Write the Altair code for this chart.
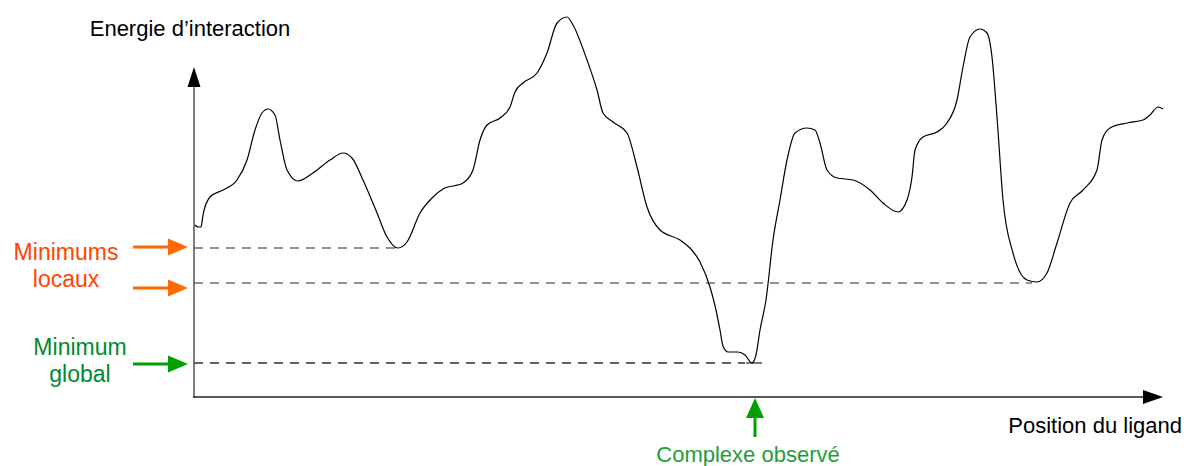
import altair as alt
import pandas as pd

curve_x = [195, 198, 201, 203, 210, 223, 237, 247, 255, 262, 268, 275, 280, 287, 298, 313, 330,
           343, 352, 363, 377, 387, 398, 407, 420, 433, 443, 463, 473, 480, 487, 500, 510, 515,
           523, 537, 547, 557, 567, 573, 587, 597, 603, 613, 627, 637, 647, 660, 680, 690, 700,
           710, 716, 720, 723, 728, 738, 745, 752, 756, 760, 766, 773, 780, 787, 795, 807, 815,
           820, 827, 837, 853, 870, 883, 898, 907, 912, 915, 923, 937, 947, 957, 963, 970, 980,
           987, 992, 997, 1003, 1013, 1027, 1037, 1047, 1057, 1070, 1083, 1097, 1102, 1110, 1127,
           1143, 1150, 1158, 1163]
curve_y = [225, 227, 227, 215, 197, 190, 180, 160, 130, 113, 109, 115, 140, 170, 181, 173, 160,
           153, 158, 180, 213, 237, 248, 242, 213, 197, 189, 183, 170, 140, 125, 118, 107, 92,
           83, 73, 53, 23, 17, 25, 60, 90, 113, 122, 133, 167, 207, 230, 240, 248, 262,
           287, 310, 330, 346, 352, 352, 355, 363, 355, 330, 300, 240, 200, 160, 133, 128, 130,
           143, 170, 178, 180, 190, 203, 212, 200, 177, 150, 137, 132, 123, 100, 67, 37, 29,
           33, 57, 117, 200, 253, 280, 282, 273, 243, 203, 190, 170, 140, 128, 123,
           120, 115, 107, 109]

# Reference levels (dashed)
lvl_x1 = [194, 194, 194]
lvl_x2 = [398, 1032, 745]
lvl_y = [248, 283, 363]
lvl_color = ["#6e6e6e", "#6e6e6e", "#333333"]

# Pointer arrows
arr_y = [247, 288, 364]
arr_color = ["#ff6a00", "#ff6a00", "#00a000"]

labels = ["Minimums", "locaux", "Minimum", "global"]
label_x = [66, 66, 80, 80]
label_y = [260, 287, 355, 382]
label_color = ["#ff4400", "#ff4400", "#008a2e", "#008a2e"]

titles = ["Energie d\u2019interaction", "Complexe observ\u00e9"]
title_x = [190, 748]
title_y = [36, 462]
title_color = ["#000000", "#1f9e3a"]

xtitle = ["Position du ligand"]
xtitle_x = [1182]
xtitle_y = [433]

X = alt.Scale(domain=[8, 1183])
Y = alt.Scale(domain=[8, 466], reverse=True)
FONT = "Liberation Sans"

def xenc(f):
    return alt.X(f, type="quantitative", scale=X, axis=None)

def yenc(f):
    return alt.Y(f, type="quantitative", scale=Y, axis=None)

curve = alt.Chart(pd.DataFrame({"x": curve_x, "y": curve_y})).mark_line(
    interpolate="monotone", color="black", strokeWidth=1.2
).encode(x=xenc("x"), y=yenc("y"), order="x:Q")

lv = pd.DataFrame({"x1": lvl_x1, "x2": lvl_x2, "y": lvl_y, "c": lvl_color})
levels = alt.Chart(lv).mark_rule(strokeDash=[9, 7], strokeWidth=1.3).encode(
    x=xenc("x1"), x2="x2:Q", y=yenc("y"), color=alt.Color("c:N", scale=None)
)
solid_end = alt.Chart(pd.DataFrame({"x1": [746], "x2": [762], "y": [363]})).mark_rule(
    color="#222222", strokeWidth=1.2
).encode(x=xenc("x1"), x2="x2:Q", y=yenc("y"))

# axes
vaxis = alt.Chart(pd.DataFrame({"x": [194], "y1": [398], "y2": [84]})).mark_rule(
    color="#555555", strokeWidth=1.5
).encode(x=xenc("x"), y=yenc("y1"), y2="y2:Q")
haxis = alt.Chart(pd.DataFrame({"x1": [193], "x2": [1146], "y": [397]})).mark_rule(
    color="#222222", strokeWidth=1.4
).encode(x=xenc("x1"), x2="x2:Q", y=yenc("y"))
vhead = alt.Chart(pd.DataFrame({"x": [194], "y": [77]})).mark_point(
    shape="M0,-1L-0.65,1L0.65,1Z", filled=True, size=400, color="black", opacity=1
).encode(x=xenc("x"), y=yenc("y"))
hhead = alt.Chart(pd.DataFrame({"x": [1153], "y": [397]})).mark_point(
    shape="M1,0L-1,-0.7L-1,0.7Z", filled=True, size=400, color="black", opacity=1
).encode(x=xenc("x"), y=yenc("y"))

# colored pointer arrows
ar = pd.DataFrame({"x1": [133] * 3, "x2": [171] * 3, "xh": [178] * 3, "y": arr_y, "c": arr_color})
shafts = alt.Chart(ar).mark_rule(strokeWidth=3).encode(
    x=xenc("x1"), x2="x2:Q", y=yenc("y"), color=alt.Color("c:N", scale=None)
)
heads = alt.Chart(ar).mark_point(
    shape="M1,0L-1,-0.85L-1,0.85Z", filled=True, size=400, opacity=1
).encode(x=xenc("xh"), y=yenc("y"), color=alt.Color("c:N", scale=None))

up = pd.DataFrame({"x": [755], "y1": [437], "y2": [414], "yh": [408]})
up_shaft = alt.Chart(up).mark_rule(strokeWidth=3, color="#00a000").encode(
    x=xenc("x"), y=yenc("y1"), y2="y2:Q"
)
up_head = alt.Chart(up).mark_point(
    shape="M0,-1L-0.9,1L0.9,1Z", filled=True, size=400, opacity=1, color="#00a000"
).encode(x=xenc("x"), y=yenc("yh"))

lab = alt.Chart(pd.DataFrame({"t": labels, "x": label_x, "y": label_y, "c": label_color})).mark_text(
    font=FONT, fontSize=23, align="center", baseline="alphabetic"
).encode(x=xenc("x"), y=yenc("y"), text="t:N", color=alt.Color("c:N", scale=None))

tit = alt.Chart(pd.DataFrame({"t": titles, "x": title_x, "y": title_y, "c": title_color})).mark_text(
    font=FONT, fontSize=22, align="center", baseline="alphabetic"
).encode(x=xenc("x"), y=yenc("y"), text="t:N", color=alt.Color("c:N", scale=None))

xt = alt.Chart(pd.DataFrame({"t": xtitle, "x": xtitle_x, "y": xtitle_y})).mark_text(
    font=FONT, fontSize=22, align="right", baseline="alphabetic", color="black"
).encode(x=xenc("x"), y=yenc("y"), text="t:N")

chart = alt.layer(
    levels, solid_end, vaxis, haxis, vhead, hhead, curve, shafts, heads, up_shaft, up_head, lab, tit, xt
).properties(width=1175, height=458, padding=0, autosize="none", background="white").configure_view(
    stroke=None
)

chart.save("out.html", embed_options={"renderer": "svg", "actions": False})
